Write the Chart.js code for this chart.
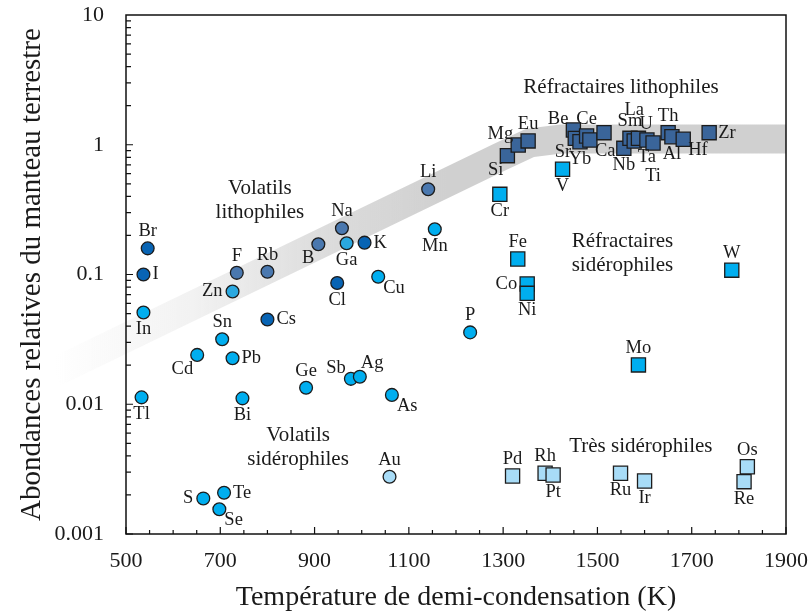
<!DOCTYPE html>
<html>
<head>
<meta charset="utf-8">
<script src="https://cdn.jsdelivr.net/npm/chart.js@4"></script>
<style>
  body { margin: 0; background: #fff; }
  canvas { display: block; }
</style>
</head>
<body>
<canvas id="myChart" width="811" height="615"></canvas>
<script>
// axis ticks
var xTickValues = [500, 700, 900, 1100, 1300, 1500, 1700, 1900];
var yTickValues = [0.001, 0.01, 0.1, 1, 10];
var yTickLabels = ['0.001', '0.01', '0.1', '1', '10'];
var xTitle = 'Température de demi-condensation (K)';
var yTitle = 'Abondances relatives du manteau terrestre';

// halogenes / alcalins (bleu fonce)
var haloNames = ['Br', 'I', 'Cs', 'Cl', 'K'];
var haloT = [546, 537, 800, 948, 1006];
var haloA = [0.159, 0.100, 0.045, 0.086, 0.176];
var haloPos = ['t', 'r', 'r', 'b', 'r'];

// volatils lithophiles
var volLithoNames = ['F', 'Rb', 'B', 'Na', 'Li'];
var volLithoT = [735, 800, 908, 958, 1141];
var volLithoA = [0.103, 0.105, 0.171, 0.227, 0.454];
var volLithoPos = ['t', 't', 'bl', 't', 't'];

// Zn, Ga
var znGaNames = ['Zn', 'Ga'];
var znGaT = [726, 968];
var znGaA = [0.074, 0.174];
var znGaPos = ['l', 'b'];

// volatils siderophiles
var volSidNames = ['In', 'Tl', 'Cd', 'Sn', 'Pb', 'Bi', 'S', 'Te', 'Se', 'Ge', 'Sb', 'Ag', 'As', 'Cu', 'Mn', 'P'];
var volSidT = [537, 533, 651, 704, 726, 747, 664, 708, 698, 882, 977, 996, 1064, 1035, 1155, 1230];
var volSidA = [0.051, 0.0113, 0.024, 0.0317, 0.0226, 0.0111, 0.00188, 0.00208, 0.00155, 0.0134, 0.0157, 0.0163, 0.0118, 0.096, 0.223, 0.0358];
var volSidPos = ['b', 'b', 'bl', 't', 'r', 'b', 'l', 'r', 'br', 't', 'tl', 'tr', 'br', 'br', 'b', 't'];

// Au
var auNames = ['Au'];
var auT = [1059];
var auA = [0.00276];
var auPos = ['t'];

// refractaires lithophiles
var refLithoNames = ['Si', 'Mg', 'Eu', 'Be', 'Sr', 'Yb', 'Ce', 'Ca', '', 'Nb', 'Sm', 'La', 'U', 'Ta', 'Ti', 'Th', 'Al', 'Hf', 'Zr'];
var refLithoT = [1309, 1332, 1353, 1449, 1453, 1463, 1477, 1484, 1514, 1556, 1569, 1578, 1587, 1605, 1618, 1650, 1658, 1682, 1737];
var refLithoA = [0.824, 0.995, 1.07, 1.30, 1.12, 1.055, 1.168, 1.088, 1.239, 0.939, 1.121, 1.069, 1.121, 1.088, 1.032, 1.239, 1.153, 1.102, 1.239];
var refLithoPos = ['bl', 'tl', 't', 'tl', 'bl', 'b', 't', 'br', '', 'b', 't', 'tt', 'tr', 'b', 'bb', 't', 'b', 'br', 'r'];

// refractaires siderophiles
var refSidNames = ['Cr', 'V', 'Fe', 'Co', 'Ni', 'W', 'Mo'];
var refSidT = [1293, 1426, 1331, 1351, 1351, 1785, 1587];
var refSidA = [0.415, 0.647, 0.1316, 0.0845, 0.0716, 0.108, 0.0201];
var refSidPos = ['b', 'b', 't', 'l', 'b', 't', 't'];

// tres siderophiles
var hseNames = ['Pd', 'Rh', 'Pt', 'Ru', 'Ir', 'Os', 'Re'];
var hseT = [1320, 1389, 1406, 1549, 1600, 1818, 1811];
var hseA = [0.0028, 0.00294, 0.00285, 0.00294, 0.00256, 0.0033, 0.00253];
var hsePos = ['t', 't', 'b', 'b', 'b', 't', 'b'];

// bande grise
var bandT = [349, 1293, 1357, 1421, 1900];
var bandA = [0.0177, 0.804, 1.032, 1.105, 1.105];

// noms des domaines
var regionText = [['Volatils', 'lithophiles'], ['Réfractaires lithophiles'], ['Réfractaires', 'sidérophiles'], ['Volatils', 'sidérophiles'], ['Très sidérophiles']];
var regionT = [784, 1550, 1553, 865, 1592];
var regionA = [0.369, 2.77, 0.146, 0.00464, 0.00471];

var SERIF = '"Liberation Serif", "Times New Roman", serif';
var TXT = '#1a1a1a';

// label offsets: dx, dy, align
var OFFS = {
	t: [0, -17, 'center'], tt: [0, -31, 'center'],
	b: [0, 17, 'center'], bb: [0, 33, 'center'],
	l: [-10, 0, 'right'], r: [9, 0, 'left'],
	tl: [-5, -11, 'right'], tr: [1, -14, 'left'],
	bl: [-4, 14, 'right'], br: [5, 11, 'left']
};

function pts(t, a) {
	var out = [];
	for (var i = 0; i < t.length; i++) out.push({x: t[i], y: a[i]});
	return out;
}

function group(names, t, a, pos, color, style) {
	return {
		data: pts(t, a),
		names: names,
		pos: pos,
		pointStyle: style,
		pointRadius: style == 'rect' ? 10 : 6.4,
		pointHoverRadius: style == 'rect' ? 10 : 6.4,
		backgroundColor: color,
		borderColor: '#1c1c1c',
		borderWidth: 1.3,
		showLine: false,
		order: 1
	};
}

function noPad(s) {
	s.paddingTop = 0;
	s.paddingBottom = 0;
	s.paddingLeft = 0;
	s.paddingRight = 0;
}

var labelPlugin = {
	id: 'pointLabels',
	afterDatasetsDraw: function(chart) {
		var ctx = chart.ctx;
		ctx.save();
		ctx.fillStyle = TXT;
		ctx.textBaseline = 'middle';
		ctx.font = '18.5px ' + SERIF;
		chart.data.datasets.forEach(function(ds, i) {
			if (!ds.names) return;
			var meta = chart.getDatasetMeta(i);
			meta.data.forEach(function(p, j) {
				var name = ds.names[j];
				if (!name) return;
				var o = OFFS[ds.pos[j]];
				ctx.textAlign = o[2];
				ctx.fillText(name, p.x + o[0], p.y + o[1]);
			});
		});
		ctx.font = '21px ' + SERIF;
		ctx.textAlign = 'center';
		var xs = chart.scales.x, ys = chart.scales.y;
		for (var k = 0; k < regionText.length; k++) {
			var px = xs.getPixelForValue(regionT[k]);
			var py = ys.getPixelForValue(regionA[k]);
			var lines = regionText[k];
			for (var m = 0; m < lines.length; m++) {
				ctx.fillText(lines[m], px, py + (m - (lines.length - 1) / 2) * 24);
			}
		}
		ctx.restore();
	}
};

var framePlugin = {
	id: 'frame',
	afterDraw: function(chart) {
		var ctx = chart.ctx, a = chart.chartArea;
		var xs = chart.scales.x, ys = chart.scales.y;
		ctx.save();
		ctx.strokeStyle = '#111';
		ctx.lineWidth = 1.2;
		ctx.beginPath();
		for (var v = 500; v <= 1900; v += 50) {
			var px = xs.getPixelForValue(v);
			var len = xTickValues.indexOf(v) >= 0 ? 7 : 4;
			ctx.moveTo(px, a.bottom);
			ctx.lineTo(px, a.bottom - len);
		}
		for (var e = -3; e <= 0; e++) {
			for (var m = 1; m <= 9; m++) {
				var py = ys.getPixelForValue(m * Math.pow(10, e));
				ctx.moveTo(a.left, py);
				ctx.lineTo(a.left + (m == 1 ? 7 : 5), py);
			}
		}
		ctx.stroke();
		ctx.lineWidth = 1.5;
		ctx.strokeRect(a.left, a.top, a.right - a.left, a.bottom - a.top);
		ctx.restore();
	}
};

window.onload = function() {
	var ctx = document.getElementById('myChart').getContext('2d');

	var band = {
		data: pts(bandT, bandA),
		showLine: true,
		pointRadius: 0,
		pointHoverRadius: 0,
		borderWidth: 29,
		borderJoinStyle: 'round',
		borderCapStyle: 'butt',
		clip: false,
		order: 10,
		borderColor: function(c) {
			var chart = c.chart;
			if (!chart.chartArea) return 'rgb(208,208,208)';
			var xs = chart.scales.x;
			var g = chart.ctx.createLinearGradient(xs.getPixelForValue(bandT[0]), 0, xs.getPixelForValue(1180), 0);
			g.addColorStop(0, 'rgba(208,208,208,0)');
			g.addColorStop(0.35, 'rgba(208,208,208,0.28)');
			g.addColorStop(0.7, 'rgba(208,208,208,0.75)');
			g.addColorStop(1, 'rgba(208,208,208,1)');
			return g;
		}
	};

	var chart = new Chart(ctx, {
		type: 'scatter',
		data: {
			datasets: [
				group(refLithoNames, refLithoT, refLithoA, refLithoPos, '#3a659a', 'rect'),
				group(refSidNames, refSidT, refSidA, refSidPos, '#00aeef', 'rect'),
				group(hseNames, hseT, hseA, hsePos, '#a8dcf7', 'rect'),
				group(haloNames, haloT, haloA, haloPos, '#0864b4', 'circle'),
				group(volLithoNames, volLithoT, volLithoA, volLithoPos, '#4a78af', 'circle'),
				group(znGaNames, znGaT, znGaA, znGaPos, '#2aa8e0', 'circle'),
				group(volSidNames, volSidT, volSidA, volSidPos, '#00aeef', 'circle'),
				group(auNames, auT, auA, auPos, '#a8dcf7', 'circle'),
				band
			]
		},
		options: {
			responsive: false,
			animation: false,
			layout: { padding: { top: 15, right: 25, left: 0, bottom: 0 } },
			plugins: { legend: { display: false }, tooltip: { enabled: false } },
			scales: {
				x: {
					type: 'linear', min: 500, max: 1900,
					grid: { display: false, drawTicks: false },
					border: { display: false },
					ticks: {
						font: { family: SERIF, size: 22 }, color: TXT, padding: 14, maxRotation: 0, autoSkip: false,
						callback: function(v) { return String(v); }
					},
					afterBuildTicks: function(s) { s.ticks = xTickValues.map(function(v) { return {value: v}; }); },
					afterFit: function(s) { s.height = 81; noPad(s); },
					title: { display: true, text: xTitle, color: TXT, font: { family: SERIF, size: 28 }, padding: { top: 0, bottom: 1 } }
				},
				y: {
					type: 'logarithmic', min: 0.001, max: 10,
					grid: { display: false, drawTicks: false },
					border: { display: false },
					ticks: {
						font: { family: SERIF, size: 22 }, color: TXT, padding: 22, autoSkip: false,
						callback: function(v) { var i = yTickValues.indexOf(v); return i >= 0 ? yTickLabels[i] : ''; }
					},
					afterBuildTicks: function(s) { s.ticks = yTickValues.map(function(v) { return {value: v}; }); },
					afterFit: function(s) { s.width = 126; noPad(s); },
					title: { display: true, text: yTitle, color: TXT, font: { family: SERIF, size: 29 }, padding: { top: 15, bottom: 0 } }
				}
			}
		},
		plugins: [labelPlugin, framePlugin]
	});
};
</script>
</body>
</html>
